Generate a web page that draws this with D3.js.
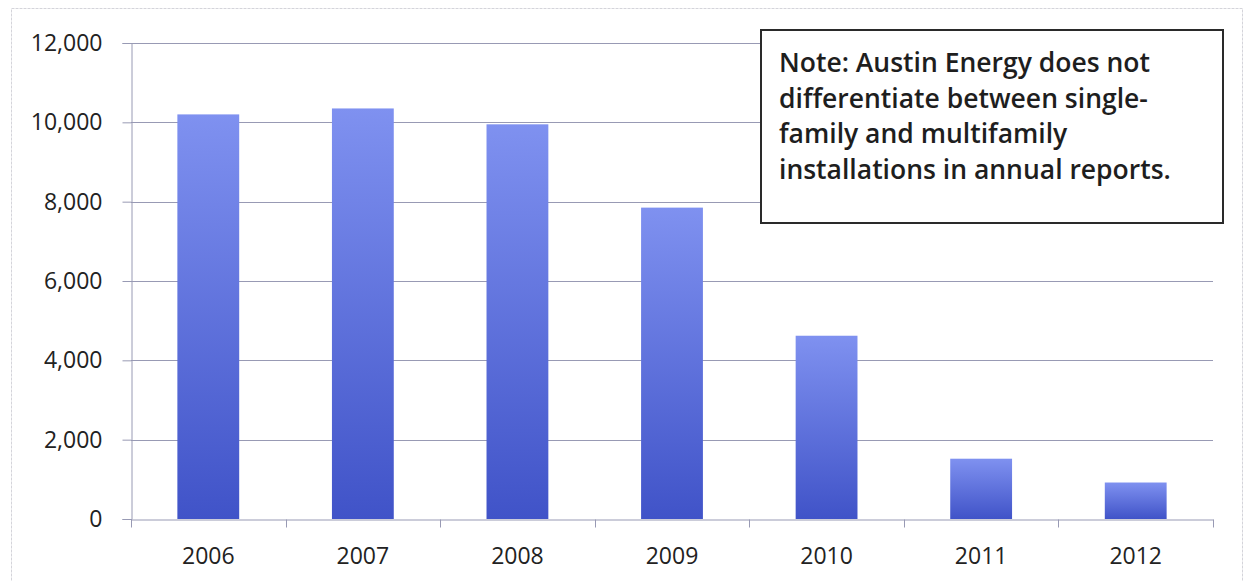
<!DOCTYPE html>
<html>
<head>
<meta charset="utf-8">
<script src="https://cdn.jsdelivr.net/npm/d3@7"></script>
<style>
  html, body { margin: 0; padding: 0; background: #fff; }
  svg { display: block; }
</style>
</head>
<body>
<svg id="chart" width="1248" height="581"></svg>
<script>
// Annual installations reported by Austin Energy
const years = ["2006", "2007", "2008", "2009", "2010", "2011", "2012"];
const installations = [10200, 10350, 9950, 7850, 4620, 1520, 920];
const yTicks = [0, 2000, 4000, 6000, 8000, 10000, 12000];
const noteLines = [
  "Note: Austin Energy does not",
  "differentiate between single-",
  "family and multifamily",
  "installations in annual reports."
];

const svg = d3.select("#chart");
const W = 1248, H = 581;
const plot = { left: 131, right: 1213, top: 43, bottom: 519 };
const fontFamily = "'Open Sans', 'Noto Sans', sans-serif";

// faint outer frame of the chart area
svg.append("rect")
  .attr("x", 11.5).attr("y", 8.5)
  .attr("width", W - 17).attr("height", H - 4)
  .attr("fill", "none")
  .attr("stroke", "#d4d4da")
  .attr("stroke-width", 1)
  .attr("stroke-dasharray", "3,1");

const x = d3.scaleBand().domain(years).range([plot.left, plot.right]).padding(0);
const y = d3.scaleLinear().domain([0, 12000]).range([plot.bottom, plot.top]);

// vertical gradient for the bars
const defs = svg.append("defs");
const grad = defs.append("linearGradient")
  .attr("id", "barFill").attr("x1", 0).attr("y1", 0).attr("x2", 0).attr("y2", 1);
grad.append("stop").attr("offset", "0%").attr("stop-color", "#7f91f0");
grad.append("stop").attr("offset", "100%").attr("stop-color", "#4053c8");

// horizontal gridlines
svg.append("g")
  .selectAll("line")
  .data(yTicks.filter(d => d > 0))
  .join("line")
  .attr("x1", plot.left).attr("x2", plot.right)
  .attr("y1", d => Math.round(y(d)) + 0.5).attr("y2", d => Math.round(y(d)) + 0.5)
  .attr("stroke", "#989ab4")
  .attr("stroke-width", 1);

// bars
const barFrac = 0.4;
svg.append("g")
  .selectAll("rect")
  .data(years.map((yr, i) => ({ yr, v: installations[i] })))
  .join("rect")
  .attr("x", d => x(d.yr) + x.bandwidth() * (1 - barFrac) / 2)
  .attr("width", x.bandwidth() * barFrac)
  .attr("y", d => y(d.v))
  .attr("height", d => y(0) - y(d.v))
  .attr("fill", "url(#barFill)");

// y axis
const yAxis = svg.append("g")
  .attr("transform", `translate(${plot.left + 0.5},0)`)
  .call(d3.axisLeft(y).tickValues(yTicks).tickFormat(d3.format(",")).tickSize(9).tickPadding(20));
yAxis.select(".domain").attr("stroke", "#989ab4");
yAxis.selectAll(".tick line").attr("stroke", "#989ab4");
yAxis.selectAll(".tick text")
  .attr("font-family", fontFamily).attr("font-size", 23).attr("fill", "#222");

// x axis with ticks on category boundaries
const xAxis = svg.append("g")
  .attr("transform", `translate(0,${plot.bottom + 0.5})`)
  .call(d3.axisBottom(x).tickSize(0).tickPadding(28));
xAxis.select(".domain").attr("stroke", "#989ab4");
xAxis.selectAll(".tick text")
  .attr("font-family", fontFamily).attr("font-size", 23).attr("fill", "#222");
xAxis.append("g")
  .selectAll("line")
  .data(years.map(d => x(d)).concat([plot.right]))
  .join("line")
  .attr("x1", d => Math.round(d) + 0.5).attr("x2", d => Math.round(d) + 0.5)
  .attr("y1", 0).attr("y2", 8)
  .attr("stroke", "#989ab4");

// note box
const box = { x: 761, y: 30, w: 462, h: 193 };
svg.append("rect")
  .attr("x", box.x).attr("y", box.y)
  .attr("width", box.w).attr("height", box.h)
  .attr("fill", "#fff")
  .attr("stroke", "#2a2a2a")
  .attr("stroke-width", 2);
svg.append("g")
  .selectAll("text")
  .data(noteLines)
  .join("text")
  .attr("x", box.x + 18)
  .attr("y", (d, i) => box.y + 42 + i * 35.5)
  .attr("font-family", fontFamily)
  .attr("font-size", 26.5)
  .attr("font-weight", 600)
  .attr("fill", "#1e1e1e")
  .text(d => d);
</script>
</body>
</html>
